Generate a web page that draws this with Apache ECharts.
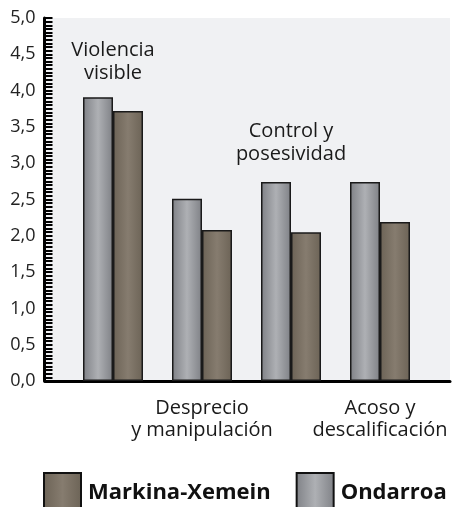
<!DOCTYPE html>
<html>
<head>
<meta charset="utf-8">
<script src="https://cdn.jsdelivr.net/npm/echarts@6/dist/echarts.min.js"></script>
<style>
  html, body { margin: 0; padding: 0; background: #fff; }
  #chart { width: 453px; height: 507px; }
</style>
</head>
<body>
<div id="chart"></div>
<script>
// datos
var categories = ['Violencia\nvisible', 'Desprecio\ny manipulación', 'Control y\nposesividad', 'Acoso y\ndescalificación'];
var ondarroa = [3.91, 2.51, 2.74, 2.74];
var markina = [3.72, 2.08, 2.05, 2.19];
var seriesNames = ['Ondarroa', 'Markina-Xemein'];
var legendOrder = ['Markina-Xemein', 'Ondarroa'];

var font = '"Open Sans", "Noto Sans", sans-serif';

function grad(edge, mid) {
    return new echarts.graphic.LinearGradient(0, 0, 1, 0, [
        {offset: 0, color: edge},
        {offset: 0.5, color: mid},
        {offset: 1, color: edge}
    ]);
}

// etiquetas de arriba (categorías 1 y 3) van sobre las barras grises
var topDist = {0: 12, 2: 16};
var ondarroaData = ondarroa.map(function (v, i) {
    var item = {value: v};
    if (topDist[i] !== undefined) {
        item.label = {
            show: true,
            position: 'top',
            distance: topDist[i],
            offset: [15, 0],
            formatter: categories[i],
            fontFamily: font,
            fontSize: 20,
            lineHeight: 23,
            color: '#1a1a1a',
            align: 'center'
        };
    }
    return item;
});

const myChart = echarts.init(document.getElementById('chart'));
myChart.setOption({
    animation: false,
    legend: {
        data: legendOrder,
        icon: 'rect',
        left: 43,
        top: 472,
        padding: 0,
        itemWidth: 37,
        itemHeight: 40,
        itemGap: 25,
        itemStyle: {borderColor: '#111', borderWidth: 2},
        textStyle: {
            fontFamily: font,
            fontSize: 22,
            fontWeight: 'bold',
            color: '#111',
            padding: [0, 0, 0, 2]
        }
    },
    grid: [
        {left: 68.5, right: 28.5, top: 18, bottom: 126},
        {left: 45, right: 3, top: 18, bottom: 126, show: true, backgroundColor: '#f0f1f3', borderWidth: 0, z: -1}
    ],
    xAxis: [
        {
            type: 'category',
            gridIndex: 0,
            data: categories,
            axisLine: {show: false},
            axisTick: {show: false},
            axisLabel: {
                interval: 0,
                margin: 16,
                fontFamily: font,
                fontSize: 20,
                lineHeight: 22,
                color: '#1a1a1a',
                formatter: function (v, i) { return i % 2 === 1 ? v : ''; }
            }
        },
        {
            type: 'value',
            gridIndex: 1,
            min: 0, max: 1,
            axisLine: {show: true, lineStyle: {color: '#000', width: 3}},
            axisTick: {show: false},
            axisLabel: {show: false},
            splitLine: {show: false}
        }
    ],
    yAxis: [
        {
            type: 'value',
            gridIndex: 0,
            min: 0,
            max: 5,
            interval: 0.5,
            offset: 24,
            axisLine: {show: true, lineStyle: {color: '#000', width: 3}},
            axisTick: {show: true, inside: true, length: 8, lineStyle: {color: '#000', width: 2}},
            minorTick: {show: true, splitNumber: 10, length: 8, lineStyle: {color: '#000', width: 2}},
            splitLine: {show: false},
            axisLabel: {
                margin: 9,
                fontFamily: font,
                fontSize: 18,
                color: '#222',
                formatter: function (v) { return v.toFixed(1).replace('.', ','); }
            }
        },
        {
            type: 'value',
            gridIndex: 1,
            min: 0, max: 1,
            axisLine: {show: false},
            axisTick: {show: false},
            axisLabel: {show: false},
            splitLine: {show: false}
        }
    ],
    series: [
        {
            name: seriesNames[0],
            type: 'bar',
            xAxisIndex: 0,
            yAxisIndex: 0,
            barWidth: 30,
            barGap: '0%',
            data: ondarroaData,
            itemStyle: {color: grad('#7f8186', '#aeb0b4'), borderColor: '#1a1a1a', borderWidth: 1.5}
        },
        {
            name: seriesNames[1],
            type: 'bar',
            xAxisIndex: 0,
            yAxisIndex: 0,
            barWidth: 30,
            barGap: '0%',
            data: markina,
            itemStyle: {color: grad('#6c6356', '#867c6f'), borderColor: '#1a1a1a', borderWidth: 1.5}
        }
    ]
});
</script>
</body>
</html>
